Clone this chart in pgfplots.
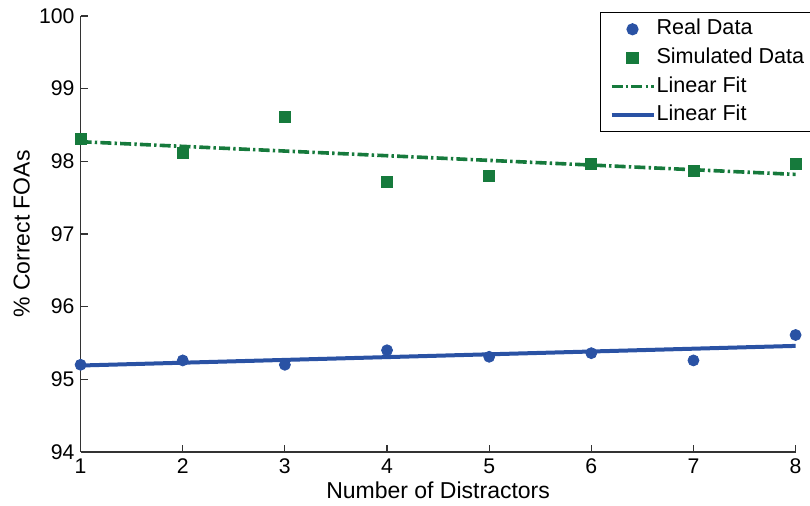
\documentclass[border=0pt]{standalone}
\usepackage{fontspec}
\setmainfont{Liberation Sans}
\usepackage{pgfplots}
\pgfplotsset{compat=1.18}

\definecolor{simgreen}{HTML}{167A3C}
\definecolor{realblue}{HTML}{2A52A4}

\begin{document}
\begin{tikzpicture}
\begin{axis}[
  scale only axis,
  width=357.5pt, height=218pt,
  xmin=1, xmax=8, ymin=94, ymax=100,
  xtick={1,...,8}, ytick={94,...,100},
  axis lines=left,
  axis line style={-, line width=0.6pt, black!80},
  tick style={line width=0.6pt, black!80},
  major tick length=3.5pt,
  tick align=inside,
  /pgf/number format/assume math mode=true,
  tick label style={font=\fontsize{10.6}{12}\selectfont},
  yticklabel style={xshift=0.5pt},
  label style={font=\fontsize{11.5}{13}\selectfont},
  xlabel={Number of Distractors},
  ylabel={\% Correct FOAs},
  xlabel style={at={(axis description cs:0.5,-0.0872)}, anchor=center},
  ylabel style={at={(axis description cs:-0.0825,0.5)}, anchor=center},
  legend cell align=left,
  legend style={
    at={(0.7263,1.0092)}, anchor=north west,
    font=\fontsize{10.8}{13}\selectfont,
    draw=black, line width=0.6pt,
    inner xsep=4.5pt, inner ysep=1.2pt,
    row sep=0pt,
    nodes={text height=8pt, text depth=2.4pt, inner ysep=1.95pt, inner xsep=0.5pt},
    /tikz/every even column/.append style={column sep=2pt},
  },
]
% measured accuracy
\addplot[only marks, mark=*, mark size=2.75pt, color=realblue,
  legend image code/.code={\draw[mark=*, mark size=2.75pt, color=realblue] plot coordinates {(10.5pt,0)};}]
  coordinates {(1,95.2) (2,95.26) (3,95.2) (4,95.4) (5,95.31) (6,95.36) (7,95.26) (8,95.61)};
\addlegendentry{Real Data}
% simulated accuracy
\addplot[only marks, mark=square*, mark size=2.75pt, color=simgreen,
  legend image code/.code={\draw[mark=square*, mark size=2.75pt, color=simgreen] plot coordinates {(10.5pt,0)};}]
  coordinates {(1,98.31) (2,98.12) (3,98.61) (4,97.71) (5,97.8) (6,97.96) (7,97.87) (8,97.96)};
\addlegendentry{Simulated Data}
% least-squares line through the simulated points
\addplot[color=simgreen, line width=1.8pt, dash pattern=on 5.5pt off 1.6pt on 1.2pt off 1.6pt,
  legend image code/.code={\draw[color=simgreen, line width=1.8pt, dash pattern=on 5.5pt off 1.6pt on 1.2pt off 1.6pt] (0pt,0) -- (21pt,0);}]
  coordinates {(1,98.27) (8,97.82)};
\addlegendentry{Linear Fit}
% least-squares line through the measured points
\addplot[color=realblue, line width=2pt,
  legend image code/.code={\draw[color=realblue, line width=2pt] (0pt,0) -- (21pt,0);}]
  coordinates {(1,95.19) (8,95.46)};
\addlegendentry{Linear Fit}
\end{axis}
% page frame: the legend box runs past the right edge and is cut off there
\pgfresetboundingbox
\path ([shift={(-40.3pt,-27pt)}]current axis.south west)
  rectangle ([shift={(7.2pt,8pt)}]current axis.north east);
\end{tikzpicture}
\end{document}
